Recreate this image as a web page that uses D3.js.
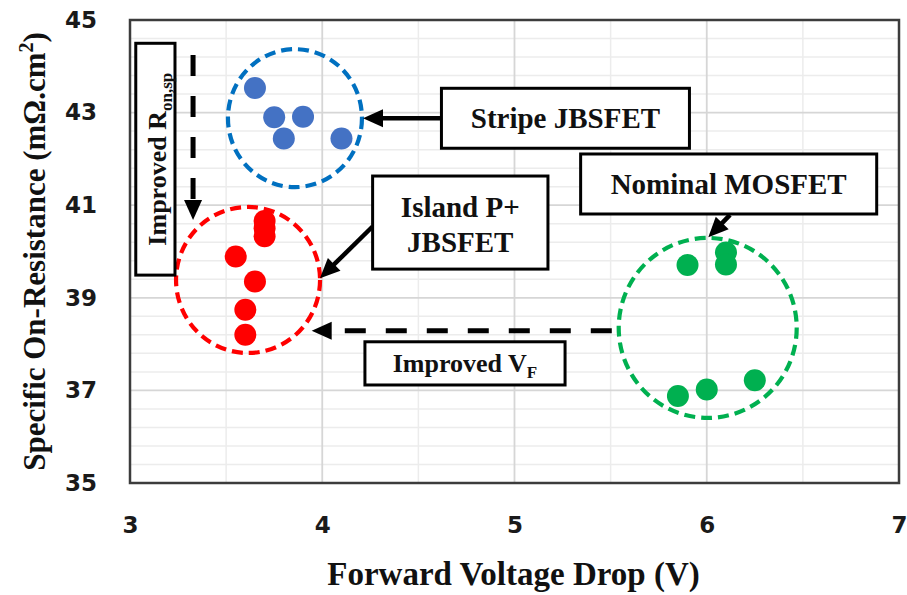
<!DOCTYPE html>
<html>
<head>
<meta charset="utf-8">
<script src="https://cdn.jsdelivr.net/npm/d3@7"></script>
<style>
  body { margin: 0; background: #fff; }
  svg { display: block; }
</style>
</head>
<body>
<svg id="chart" width="907" height="595"></svg>
<script>
// ---- data ----
const xTicks = [3, 4, 5, 6, 7];
const yTicks = [35, 37, 39, 41, 43, 45];

const stripeVf  = [3.65, 3.75, 3.90, 3.80, 4.10];
const stripeRon = [43.53, 42.90, 42.91, 42.44, 42.44];

const islandVf  = [3.70, 3.70, 3.70, 3.55, 3.65, 3.60, 3.60];
const islandRon = [40.66, 40.50, 40.33, 39.89, 39.35, 38.74, 38.20];

const nominalVf  = [5.90, 6.10, 6.10, 5.85, 6.00, 6.25];
const nominalRon = [39.71, 39.98, 39.72, 36.88, 37.02, 37.22];

const seriesNames = ["Stripe JBSFET", "Island P+ JBSFET", "Nominal MOSFET"];

// ---- layout ----
const svg = d3.select("#chart");
const plot = { left: 130, right: 899, top: 20, bottom: 483 };
const x = d3.scaleLinear().domain([3, 7]).range([plot.left, plot.right]);
const y = d3.scaleLinear().domain([35, 45]).range([plot.bottom, plot.top]);

const serif = "'Liberation Serif', 'Times New Roman', serif";
const sans = "'DejaVu Sans', Verdana, sans-serif";

const series = [
  { name: seriesNames[0], vf: stripeVf,  ron: stripeRon,  dot: "#4472C4", ring: "#0070C0" },
  { name: seriesNames[1], vf: islandVf,  ron: islandRon,  dot: "#FF0000", ring: "#FF0000" },
  { name: seriesNames[2], vf: nominalVf, ron: nominalRon, dot: "#00B050", ring: "#00B050" }
];

// ---- gridlines ----
const grid = svg.append("g");
const minorX = d3.range(6, 15).map(d => d / 2);          // every 0.5 V
const minorY = d3.range(0, 26).map(d => 35 + d * 0.4);    // every 0.4
grid.selectAll("line.mx").data(minorX.filter(d => d % 1 !== 0)).join("line")
  .attr("x1", d => x(d)).attr("x2", d => x(d))
  .attr("y1", plot.top).attr("y2", plot.bottom)
  .attr("stroke", "#ececec").attr("stroke-width", 1.5);
grid.selectAll("line.my").data(minorY.filter(d => Math.abs((d - 35) / 2 - Math.round((d - 35) / 2)) > 1e-6)).join("line")
  .attr("x1", plot.left).attr("x2", plot.right)
  .attr("y1", d => y(d)).attr("y2", d => y(d))
  .attr("stroke", "#ececec").attr("stroke-width", 1.5);
grid.selectAll("line.Mx").data(xTicks).join("line")
  .attr("x1", d => x(d)).attr("x2", d => x(d))
  .attr("y1", plot.top).attr("y2", plot.bottom)
  .attr("stroke", "#d6d6d6").attr("stroke-width", 1.8);
grid.selectAll("line.My").data(yTicks).join("line")
  .attr("x1", plot.left).attr("x2", plot.right)
  .attr("y1", d => y(d)).attr("y2", d => y(d))
  .attr("stroke", "#d6d6d6").attr("stroke-width", 1.8);

// plot frame
svg.append("rect")
  .attr("x", plot.left).attr("y", plot.top)
  .attr("width", plot.right - plot.left).attr("height", plot.bottom - plot.top)
  .attr("fill", "none").attr("stroke", "#3c3c3c").attr("stroke-width", 2.5);

// ---- axes ----
const yAxis = svg.append("g")
  .attr("transform", `translate(${plot.left},0)`)
  .call(d3.axisLeft(y).tickValues(yTicks).tickSize(0).tickPadding(33).tickFormat(d3.format("d")));
const xAxis = svg.append("g")
  .attr("transform", `translate(0,${plot.bottom})`)
  .call(d3.axisBottom(x).tickValues(xTicks).tickSize(0).tickPadding(34).tickFormat(d3.format("d")));
[yAxis, xAxis].forEach(a => {
  a.select(".domain").remove();
  a.selectAll("text")
    .attr("font-family", sans).attr("font-weight", "bold")
    .attr("font-size", 23).attr("fill", "#1a1a1a");
});

svg.append("text")
  .attr("x", (plot.left + plot.right) / 2 - 1).attr("y", 585)
  .attr("text-anchor", "middle")
  .attr("font-family", serif).attr("font-weight", "bold").attr("font-size", 33)
  .attr("fill", "#111")
  .text("Forward Voltage Drop (V)");

const yTitle = svg.append("text")
  .attr("transform", `translate(45,${(plot.top + plot.bottom) / 2}) rotate(-90)`)
  .attr("text-anchor", "middle")
  .attr("font-family", serif).attr("font-weight", "bold").attr("font-size", 31)
  .attr("fill", "#111");
yTitle.append("tspan").text("Specific On-Resistance (mΩ.cm");
yTitle.append("tspan").attr("font-size", 20).attr("dy", -12).text("2");
yTitle.append("tspan").attr("dy", 12).text(")");

// ---- group outlines ----
const rings = [
  { cx: 3.858, cy: 42.88, rx: 67, ry: 69, color: series[0].ring },
  { cx: 3.614, cy: 39.385, rx: 72, ry: 73, color: series[1].ring },
  { cx: 6.005, cy: 38.35, rx: 89, ry: 90, color: series[2].ring }
];
svg.append("g").selectAll("ellipse").data(rings).join("ellipse")
  .attr("cx", d => x(d.cx)).attr("cy", d => y(d.cy))
  .attr("rx", d => d.rx).attr("ry", d => d.ry)
  .attr("fill", "none").attr("stroke", d => d.color)
  .attr("stroke-width", 4.2).attr("stroke-dasharray", "11,6");

// ---- points ----
series.forEach(s => {
  const pts = s.vf.map((v, i) => ({ vf: v, ron: s.ron[i] }));
  svg.append("g").selectAll("circle").data(pts).join("circle")
    .attr("cx", d => x(d.vf)).attr("cy", d => y(d.ron))
    .attr("r", 11).attr("fill", s.dot);
});

// ---- annotations ----
function arrow(x1, y1, x2, y2, dashed) {
  const px1 = x(x1), py1 = y(y1), px2 = x(x2), py2 = y(y2);
  const len = Math.hypot(px2 - px1, py2 - py1);
  const ux = (px2 - px1) / len, uy = (py2 - py1) / len;
  const head = 20, half = 9;
  const bx = px2 - ux * head, by = py2 - uy * head;
  svg.append("line")
    .attr("x1", px1).attr("y1", py1).attr("x2", bx + ux * 2).attr("y2", by + uy * 2)
    .attr("stroke", "#000").attr("stroke-width", dashed ? 5 : 4.5)
    .attr("stroke-dasharray", dashed ? "21,20" : null);
  svg.append("polygon")
    .attr("points", [
      [px2, py2],
      [bx - uy * half, by + ux * half],
      [bx + uy * half, by - ux * half]
    ].map(p => p.join(",")).join(" "))
    .attr("fill", "#000");
}

function box(x0, y0, x1, y1) {
  svg.append("rect")
    .attr("x", x(x0)).attr("y", y(y0))
    .attr("width", x(x1) - x(x0)).attr("height", y(y1) - y(y0))
    .attr("fill", "#fff").attr("stroke", "#000").attr("stroke-width", 3);
}

function label(cxPx, cyPx, size) {
  return svg.append("text")
    .attr("x", cxPx).attr("y", cyPx + size * 0.33)
    .attr("text-anchor", "middle")
    .attr("font-family", serif).attr("font-weight", "bold")
    .attr("font-size", size).attr("fill", "#111");
}

// Stripe JBSFET callout
arrow(4.62, 42.88, 4.212, 42.88, false);
box(4.62, 43.525, 5.91, 42.23);
label((x(4.62) + x(5.91)) / 2, (y(43.525) + y(42.23)) / 2, 29).text(seriesNames[0]);

// Island P+ JBSFET callout
arrow(4.262, 40.54, 3.988, 39.42, false);
box(4.262, 41.63, 5.174, 39.62);
label((x(4.262) + x(5.174)) / 2, y(41.63) + 31, 29).text("Island P+");
label((x(4.262) + x(5.174)) / 2, y(41.63) + 66, 29).text("JBSFET");

// Nominal MOSFET callout
arrow(6.121, 40.79, 6.008, 40.307, false);
box(5.344, 42.106, 6.884, 40.81);
label((x(5.344) + x(6.884)) / 2, (y(42.106) + y(40.81)) / 2, 29).text(seriesNames[2]);

// Improved forward voltage
arrow(5.506, 38.29, 3.945, 38.29, true);
box(4.222, 38.05, 5.263, 37.117);
const vf = label((x(4.222) + x(5.263)) / 2, (y(38.05) + y(37.117)) / 2, 26);
vf.append("tspan").text("Improved V");
vf.append("tspan").attr("font-size", 17).attr("dy", 6).text("F");

// Improved specific on-resistance
arrow(3.328, 44.244, 3.328, 40.68, true);
box(3.03, 44.497, 3.234, 39.49);
const ronCx = (x(3.03) + x(3.234)) / 2 + 2, ronCy = (y(44.497) + y(39.49)) / 2;
const ron = svg.append("text")
  .attr("transform", `translate(${ronCx},${ronCy}) rotate(-90)`)
  .attr("y", 9)
  .attr("text-anchor", "middle")
  .attr("font-family", serif).attr("font-weight", "bold")
  .attr("font-size", 26).attr("fill", "#111");
ron.append("tspan").text("Improved R");
ron.append("tspan").attr("font-size", 17).attr("dy", 6).text("on,sp");
</script>
</body>
</html>
